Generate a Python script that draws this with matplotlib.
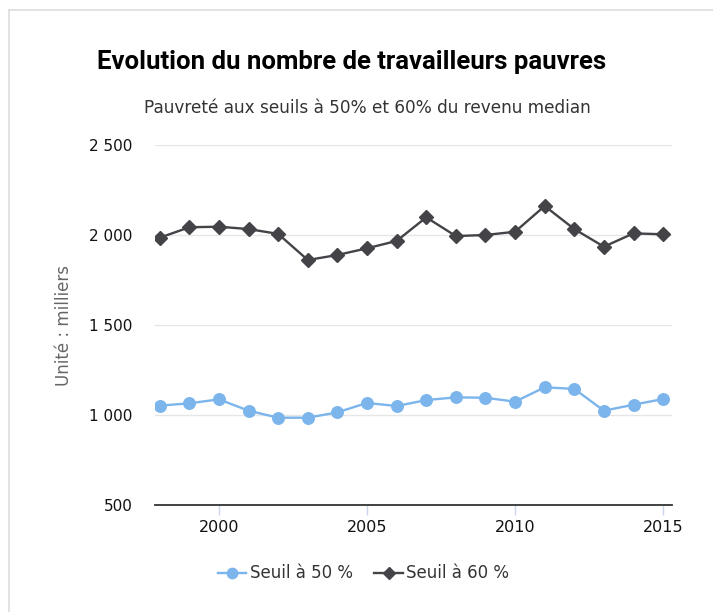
import matplotlib
matplotlib.use("Agg")
import matplotlib.pyplot as plt
from matplotlib.lines import Line2D

# données (milliers)
annees = list(range(1998, 2016))
seuil_50 = [1052, 1065, 1087, 1024, 985, 985, 1015, 1067, 1050,
            1083, 1098, 1096, 1074, 1154, 1145, 1024, 1057, 1089]
seuil_60 = [1985, 2043, 2046, 2033, 2006, 1861, 1889, 1926, 1967,
            2098, 1994, 2000, 2018, 2161, 2033, 1935, 2009, 2004]

y_ticks = [500, 1000, 1500, 2000, 2500]
y_labels = ["500", "1 000", "1 500", "2 000", "2 500"]
x_ticks = [2000, 2005, 2010, 2015]

bleu = "#7cb5ec"
noir = "#434348"

fig = plt.figure(figsize=(7.13, 6.12), dpi=100)
ax = fig.add_axes([0.2174, 0.1748, 0.7251, 0.5883])

ax.plot(annees, seuil_50, color=bleu, lw=1.7, marker="o", ms=8.3,
        label="Seuil à 50 %")
ax.plot(annees, seuil_60, color=noir, lw=1.7, marker="D", ms=6.8,
        label="Seuil à 60 %")

ax.set_xlim(1997.84, 2015.3)
ax.set_ylim(500, 2500)
ax.set_yticks(y_ticks)
ax.set_yticklabels(y_labels)
ax.set_xticks(x_ticks)
ax.grid(axis="y", color="#e6e6e6", lw=1)
ax.set_axisbelow(True)

for s in ["top", "right", "left"]:
    ax.spines[s].set_visible(False)
ax.spines["bottom"].set_color("#333333")
ax.spines["bottom"].set_linewidth(1.3)
ax.spines["bottom"].set_zorder(3)

ax.tick_params(axis="y", length=0, pad=16, labelsize=11, labelcolor="#111111")
ax.tick_params(axis="x", length=7, width=1, color="#ccd6eb", pad=4,
               labelsize=11.5, labelcolor="#111111")

ax.set_ylabel("Unité : milliers", color="#666666", fontsize=12, labelpad=12)

fig.text(0.493, 0.898, "Evolution du nombre de travailleurs pauvres",
         ha="center", va="center", fontsize=18.5, fontweight="bold",
         family="Roboto", color="#000000")
fig.text(0.515, 0.823, "Pauvreté aux seuils à 50% et 60% du revenu median",
         ha="center", va="center", fontsize=12.2, color="#333333")

fig.legend(loc="center", bbox_to_anchor=(0.51, 0.063), ncol=2, frameon=False,
           fontsize=12, labelcolor="#333333", handlelength=1.7,
           handletextpad=0.2, columnspacing=1.3, markerscale=0.9)

# cadre gris en haut et à gauche
fig.add_artist(Line2D([0.012, 1], [0.984, 0.984], color="#dddddd", lw=1.2))
fig.add_artist(Line2D([0.012, 0.012], [0, 0.984], color="#dddddd", lw=1.2))

fig.savefig("out.png", dpi=100, facecolor="white")
